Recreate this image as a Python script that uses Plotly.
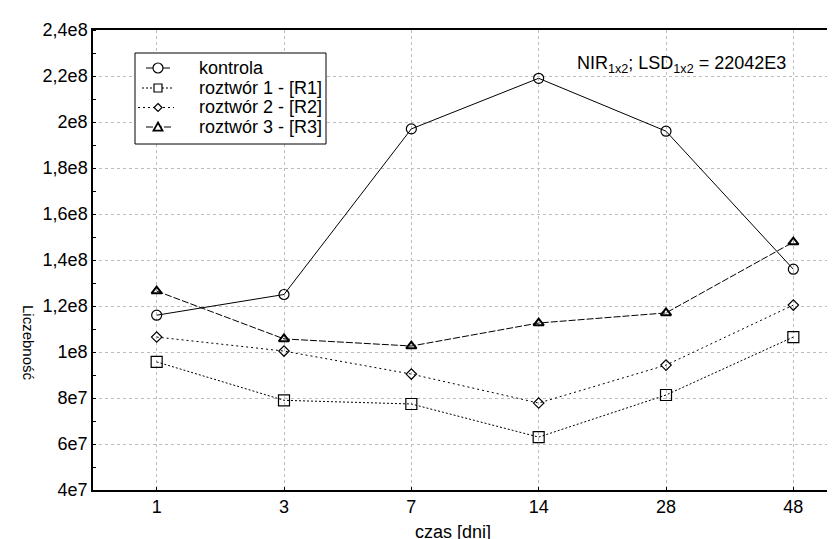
import plotly.graph_objects as go

# ---- data ----
days = ["1", "3", "7", "14", "28", "48"]
kontrola = [1.16e8, 1.25e8, 1.97e8, 2.19e8, 1.96e8, 1.36e8]
roztwor1 = [9.57e7, 7.9e7, 7.74e7, 6.3e7, 8.13e7, 1.065e8]
roztwor2 = [1.065e8, 1.004e8, 9.04e7, 7.78e7, 9.43e7, 1.204e8]
roztwor3 = [1.265e8, 1.057e8, 1.026e8, 1.126e8, 1.17e8, 1.478e8]

y_tickvals = [4e7, 6e7, 8e7, 1e8, 1.2e8, 1.4e8, 1.6e8, 1.8e8, 2e8, 2.2e8, 2.4e8]
y_ticktext = ["4e7", "6e7", "8e7", "1e8", "1,2e8", "1,4e8", "1,6e8", "1,8e8", "2e8", "2,2e8", "2,4e8"]

series_names = ["kontrola", "roztwór 1 - [R1]", "roztwór 2 - [R2]", "roztwór 3 - [R3]"]

W, H = 835, 539
ML, MR, MT, MB = 85, 0, 22, 57
PW, PH = W - ML - MR, H - MT - MB
FONT = "Liberation Sans, Arial, sans-serif"
FS = 18


def px(x):
    return (x - ML) / PW


def py(y):
    return (H - MB - y) / PH


fig = go.Figure()

styles = [
    (kontrola, "solid", "circle-open", 10, 1.2),
    (roztwor1, "2px,2px", "square-open", 11, 1.2),
    (roztwor2, "2px,3px", "diamond-open", 8, 1.2),
    (roztwor3, "7px,2px", "triangle-up-open", 9, 2.0),
]
for name, (vals, dash, sym, size, mlw) in zip(series_names, styles):
    fig.add_trace(go.Scatter(
        x=days, y=vals, name=name, mode="lines+markers",
        line=dict(color="black", width=1, dash=dash),
        marker=dict(symbol=sym, size=size, color="black",
                    line=dict(color="black", width=mlw)),
        showlegend=False,
    ))

fig.update_layout(
    width=W, height=H,
    margin=dict(l=ML, r=MR, t=MT, b=MB, pad=0),
    paper_bgcolor="white", plot_bgcolor="white",
    font=dict(family=FONT, color="black", size=FS),
    showlegend=False,
)

fig.update_xaxes(
    type="category", range=[-0.5, 5.39],
    showline=True, linecolor="black", linewidth=1.5, mirror=True,
    showgrid=True, gridcolor="#bdbdbd", griddash="dot", gridwidth=1,
    ticks="inside", ticklen=3, tickcolor="black",
    tickfont=dict(size=FS, family=FONT, color="black"), ticklabelstandoff=0,
    zeroline=False,
)
fig.update_yaxes(
    range=[4e7, 2.4e8],
    tickvals=y_tickvals, ticktext=y_ticktext,
    showline=True, linecolor="black", linewidth=1.5,
    showgrid=True, gridcolor="#bdbdbd", griddash="dot", gridwidth=1,
    ticks="", tickfont=dict(size=FS, family=FONT, color="black"),
    minor=dict(dtick=1e7, tick0=4e7, ticks="inside", ticklen=3, tickcolor="black", showgrid=False),
    zeroline=False,
)

# ---- legend (drawn as a framed key) ----
shapes = []
shapes.append(dict(type="rect", xref="paper", yref="paper",
                   x0=px(127), x1=px(318), y0=py(45), y1=py(136),
                   line=dict(color="black", width=1), fillcolor="white", layer="above"))
leg_rows = [60, 80, 99.5, 119]
leg_dash = ["solid", "2px,2px", "2px,3px", "7px,2px"]
leg_seg = [(138, 162), (134, 164), (130, 166), (138, 164)]
for yy, d, (a, b) in zip(leg_rows, leg_dash, leg_seg):
    shapes.append(dict(type="line", xref="paper", yref="paper",
                       x0=px(a), x1=px(b), y0=py(yy), y1=py(yy),
                       line=dict(color="black", width=1, dash=d), layer="above"))
cx = 150
r = 5
shapes.append(dict(type="circle", xref="paper", yref="paper",
                   x0=px(cx - r), x1=px(cx + r), y0=py(leg_rows[0] - r), y1=py(leg_rows[0] + r),
                   line=dict(color="black", width=1.2), fillcolor="white", layer="above"))
s = 4
shapes.append(dict(type="rect", xref="paper", yref="paper",
                   x0=px(cx - s), x1=px(cx + s), y0=py(leg_rows[1] - s), y1=py(leg_rows[1] + s),
                   line=dict(color="black", width=1.2), fillcolor="white", layer="above"))
d = 4
y2 = leg_rows[2]
shapes.append(dict(type="path", xref="paper", yref="paper",
                   path=f"M {px(cx)} {py(y2 - d)} L {px(cx + d)} {py(y2)} L {px(cx)} {py(y2 + d)} L {px(cx - d)} {py(y2)} Z",
                   line=dict(color="black", width=1.2), fillcolor="white", layer="above"))
t = 4.5
y3 = leg_rows[3]
shapes.append(dict(type="path", xref="paper", yref="paper",
                   path=f"M {px(cx)} {py(y3 - t)} L {px(cx + t)} {py(y3 + t * 0.8)} L {px(cx - t)} {py(y3 + t * 0.8)} Z",
                   line=dict(color="black", width=1.8), fillcolor="white", layer="above"))
fig.update_layout(shapes=shapes)

for yy, name in zip(leg_rows, series_names):
    fig.add_annotation(text=name, xref="paper", yref="paper",
                       x=px(189), y=py(yy), xanchor="left", yanchor="middle",
                       showarrow=False, font=dict(size=FS, family=FONT, color="black"))

# x-axis title
fig.add_annotation(
    text="czas [dni]", xref="paper", yref="paper",
    x=px(445), y=py(524),
    xanchor="center", yanchor="middle", showarrow=False,
    font=dict(size=FS, family=FONT, color="black"),
)
# y-axis title
fig.add_annotation(
    text="Liczebność", xref="paper", yref="paper",
    x=px(21), y=py(335),
    xanchor="center", yanchor="middle", showarrow=False, textangle=90,
    font=dict(size=15, family="Liberation Sans Narrow, Arial Narrow, Liberation Sans, sans-serif", color="black"),
)
# LSD annotation
fig.add_annotation(
    text="NIR<sub>1x2</sub>; LSD<sub>1x2</sub> = 22042E3", xref="paper", yref="paper",
    x=px(567), y=py(56),
    xanchor="left", yanchor="middle", showarrow=False,
    font=dict(size=FS, family=FONT, color="black"),
)

fig.write_html("out.html")
